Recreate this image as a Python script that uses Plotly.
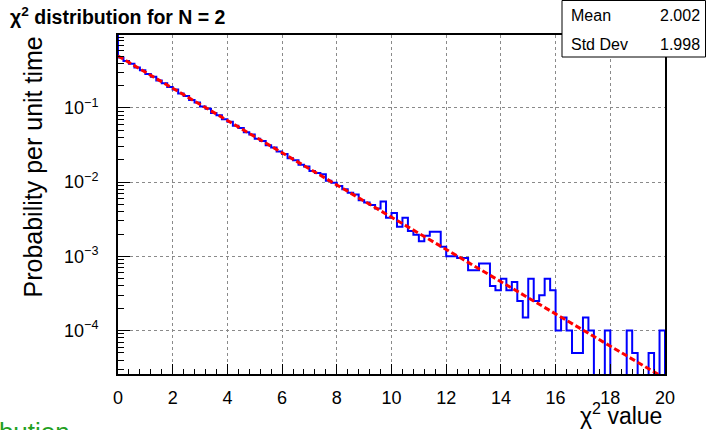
import numpy as np
import plotly.graph_objects as go

# ---------------- data ----------------
x_min, x_max, n_bins = 0.0, 20.0, 100
# probability per unit time in each 0.2-wide bin
bin_values = [
    0.478, 0.428, 0.392, 0.350, 0.321, 0.286, 0.263, 0.234, 0.215, 0.191,
    0.177, 0.156, 0.145, 0.128, 0.118, 0.1045, 0.0972, 0.0855, 0.0795, 0.0704,
    0.0651, 0.0576, 0.0534, 0.0469, 0.0438, 0.0384, 0.0358, 0.0314, 0.0293, 0.0258,
    0.0240, 0.0209, 0.0197, 0.0172, 0.0162, 0.0141, 0.0133, 0.0128, 0.0104, 0.0098,
    0.0089, 0.0080, 0.0072, 0.0068, 0.0057, 0.0053, 0.0049, 0.0044, 0.0055, 0.0033,
    0.00385, 0.0025, 0.0033, 0.0022, 0.00195, 0.0016, 0.0019, 0.00215, 0.00215, 0.00135,
    0.0010, 0.0010, 0.00095, 0.00095, 0.00065, 0.00065, 0.0008, 0.0008, 0.0004, 0.00035,
    0.0005, 0.00035, 0.00045, 0.00025, 0.00015, 0.0005, 0.00025, 0.0003, 0.0005, 0.00035,
    0.0001, 0.00015, 0.0001, 0.00005, 0.00005, 0.00015, 0.0001, 0.0, 0.0, 0.0001,
    0.0, 0.0, 0.0, 0.0001, 0.00005, 0.0, 0.0, 0.00005, 0.0, 0.0001,
]
# theoretical curve end points (straight line on log scale)
curve_x = [0.0, 20.0]
curve_y = [0.50, 2.27e-5]

x_ticks = [0, 2, 4, 6, 8, 10, 12, 14, 16, 18, 20]
y_tick_vals = [1e-4, 1e-3, 1e-2, 1e-1]
y_tick_text = ["10<sup>\u22124</sup>", "10<sup>\u22123</sup>", "10<sup>\u22122</sup>", "10<sup>\u22121</sup>"]

title_text = "<b>\u03c7<sup>2</sup> distribution for N = 2</b>"
x_title = "\u03c7<sup>2</sup> value"
y_title = "Probability per unit time"
stats = [("Mean", "2.002"), ("Std Dev", "1.998")]

# ---------------- layout geometry ----------------
W, H = 707, 430
L, R, T, B = 118, 42, 35, 56
pw, ph = W - L - R, H - T - B
y_range = [-4.585, -0.018]


def px(x):
    return (x - L) / pw


def py(y):
    return (H - B - y) / ph


edges = np.linspace(x_min, x_max, n_bins + 1)
floor = 10 ** (y_range[0] - 1)
top = 10 ** (y_range[1] + 1)
vals = [v if v > 0 else floor for v in bin_values]
step_x = [edges[0]] + list(edges[:-1]) + [edges[-1], edges[-1]]
step_y = [top] + vals + [vals[-1], floor]

fig = go.Figure()
fig.add_trace(go.Scatter(x=step_x, y=step_y, mode="lines", line_shape="hv",
                         line=dict(color="#0000ff", width=2), hoverinfo="skip"))
fig.add_trace(go.Scatter(x=curve_x, y=curve_y, mode="lines",
                         line=dict(color="#ff0000", width=3, dash="6px,3px"), hoverinfo="skip"))

font_family = "Liberation Sans, Arial, Helvetica, sans-serif"

minor_y = [k * 10.0 ** e for e in range(-5, 0) for k in range(2, 10)]

fig.update_layout(
    width=W, height=H,
    margin=dict(l=L, r=R, t=T, b=B),
    paper_bgcolor="white", plot_bgcolor="white",
    showlegend=False,
    font=dict(family=font_family, color="black"),
    xaxis=dict(range=[x_min, x_max], tickvals=x_ticks, ticks="inside", ticklen=10,
               tickwidth=1, tickcolor="black", showline=True, linecolor="black",
               linewidth=2, mirror=True, showgrid=True, gridcolor="#8a8a8a",
               griddash="dot", gridwidth=1, zeroline=False,
               tickfont=dict(size=18), ticklabelstandoff=6,
               minor=dict(dtick=0.4, tick0=0, ticks="inside", ticklen=5,
                          tickcolor="black", showgrid=False)),
    yaxis=dict(type="log", range=y_range, tickvals=y_tick_vals, ticktext=y_tick_text,
               ticks="inside", ticklen=12, tickwidth=1, tickcolor="black",
               showline=True, linecolor="black", linewidth=2, mirror=True,
               showgrid=True, gridcolor="#8a8a8a", griddash="dot", gridwidth=1,
               zeroline=False, tickfont=dict(size=18), ticklabelstandoff=14,
               minor=dict(tickvals=minor_y, ticks="inside", ticklen=6,
                          tickcolor="black", showgrid=False)),
)

ann = []
ann.append(dict(text=title_text, x=px(8), y=py(16), xref="paper", yref="paper",
                xanchor="left", yanchor="middle", showarrow=False,
                font=dict(size=19.5, family=font_family)))
ann.append(dict(text=x_title, x=px(664), y=py(414), xref="paper", yref="paper",
                xanchor="right", yanchor="middle", showarrow=False,
                font=dict(size=23, family=font_family)))
ann.append(dict(text=y_title, x=px(32), y=py(35), xref="paper", yref="paper",
                xanchor="center", yanchor="top", textangle=-90, showarrow=False,
                font=dict(size=25, family=font_family)))
ann.append(dict(text="\u03c7<sup>2</sup> distribution", x=px(72), y=py(430), xref="paper",
                yref="paper", xanchor="right", yanchor="middle", showarrow=False,
                font=dict(size=26, family=font_family, color="#22a022")))
row_y = [16, 44]
for (lab, val), yy in zip(stats, row_y):
    ann.append(dict(text=lab, x=px(569), y=py(yy), xref="paper", yref="paper",
                    xanchor="left", yanchor="middle", showarrow=False,
                    font=dict(size=16, family=font_family)))
    ann.append(dict(text=val, x=px(702), y=py(yy), xref="paper", yref="paper",
                    xanchor="right", yanchor="middle", showarrow=False,
                    font=dict(size=16, family=font_family)))
fig.update_layout(annotations=ann)

fig.add_shape(type="rect", xref="paper", yref="paper",
              x0=px(562), x1=px(705.5), y0=py(57), y1=py(0.5),
              line=dict(color="black", width=1), fillcolor="white", layer="above")

fig.write_html("out.html")
